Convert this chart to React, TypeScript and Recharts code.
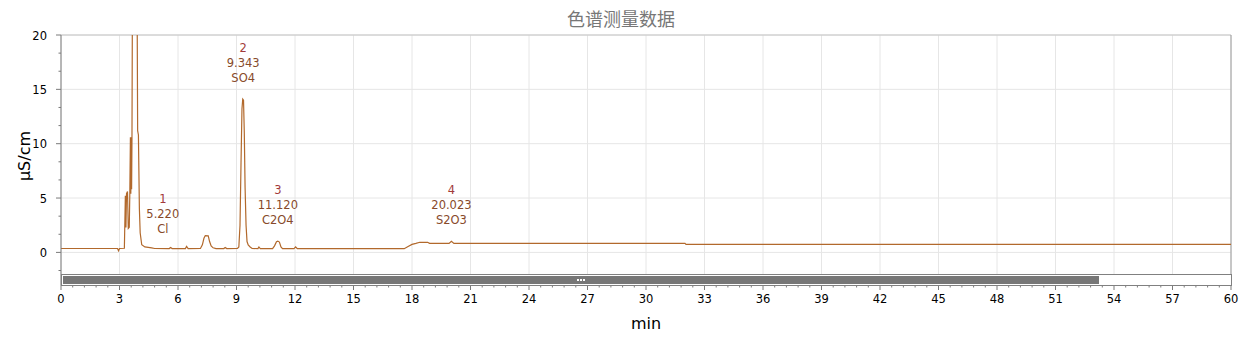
import {
	ComposedChart,
	Line,
	Scatter,
	XAxis,
	YAxis,
	CartesianGrid,
	ReferenceLine
} from "recharts";

// chromatogram trace (min, µS/cm)
const time = [
	0, 2.9, 2.95, 3.0, 3.25,
	3.3, 3.33, 3.36, 3.41, 3.45, 3.5, 3.53, 3.56, 3.58, 3.6, 3.62, 3.64, 3.66, 3.7, 3.88,
	3.91, 3.93, 3.97, 4.02, 4.06, 4.14, 4.3, 4.65, 4.8,
	5.55, 5.62, 5.7,
	6.38, 6.44, 6.52,
	7.15, 7.25, 7.33, 7.4, 7.55, 7.62, 7.7, 7.8, 7.95,
	8.35, 8.42, 8.5,
	9.05, 9.12, 9.18, 9.23, 9.28, 9.32, 9.36, 9.4, 9.44, 9.49, 9.54, 9.6, 9.7, 9.8,
	10.1, 10.15, 10.22,
	10.85, 10.95, 11.05, 11.12, 11.2, 11.28, 11.36,
	11.95, 12.03, 12.12,
	17.6, 17.8, 18.0, 18.2, 18.4, 18.8, 18.9,
	19.9, 20.02, 20.15,
	32.0, 32.05, 60
];
const signal = [
	0.36, 0.36, 0.15, 0.36, 0.38,
	5.2, 2.3, 5.4, 5.6, 2.2, 2.3, 5.5, 10.6, 5.4, 10.6, 5.8, 10.6, 22, 30, 30,
	20, 11.2, 10.8, 4, 1.8, 0.7, 0.5, 0.42, 0.36,
	0.35, 0.45, 0.35,
	0.35, 0.55, 0.35,
	0.36, 0.7, 1.3, 1.55, 1.52, 1.0, 0.6, 0.42, 0.35,
	0.35, 0.45, 0.35,
	0.36, 0.5, 2.5, 8, 13.2, 14.1, 14.0, 11, 6, 2.5, 1.0, 0.68, 0.5, 0.36,
	0.35, 0.5, 0.35,
	0.35, 0.6, 0.98, 1.04, 0.95, 0.5, 0.35,
	0.35, 0.5, 0.34,
	0.34, 0.55, 0.74, 0.83, 0.93, 0.93, 0.83,
	0.83, 1.03, 0.83,
	0.83, 0.74, 0.74
];

// integrated peaks
const peakNo = ["1", "2", "3", "4"];
const peakTime = [5.22, 9.343, 11.12, 20.023];
const peakTimeText = ["5.220", "9.343", "11.120", "20.023"];
const peakHeight = [0.2, 14.1, 1.04, 1.03];
const peakName = ["Cl", "SO4", "C2O4", "S2O3"];

const majorX = [0, 3, 6, 9, 12, 15, 18, 21, 24, 27, 30, 33, 36, 39, 42, 45, 48, 51, 54, 57, 60];
const majorY = [0, 5, 10, 15, 20];

const xTicks = majorX.slice(0, -1).flatMap((m) => [0, 0.6, 1.2, 1.8, 2.4].map((d) => +(m + d).toFixed(1))).concat([60]);
const yTicks = [-1, 0, 1, 2, 3, 4, 5, 6, 7, 8, 9, 10, 11, 12].map((k) => (k * 5) / 3);

const trace = time.map((t, i) => ({ t, s: signal[i] }));
const peaks = peakNo.map((n, i) => ({
	t: peakTime[i],
	v: peakHeight[i],
	n,
	rt: peakTimeText[i],
	name: peakName[i]
}));

const FONT = "Tahoma, 'DejaVu Sans', sans-serif";
const LINE = "#b2692c";

const isMajor = (v: number, list: number[]) => list.some((m) => Math.abs(m - v) < 1e-6);

function XTick({ x, y, payload }: any) {
	const major = isMajor(payload.value, majorX);
	return (
		<g>
			<line x1={x} y1={y} x2={x} y2={y + (major ? 5 : 2.5)} stroke="#7a7a7a" />
			{major && (
				<text x={x} y={y + 17.5} textAnchor="middle" fontSize={11.5} fontFamily={FONT} fill="#000">
					{payload.value}
				</text>
			)}
		</g>
	);
}

function YTick({ x, y, payload }: any) {
	const major = isMajor(payload.value, majorY);
	return (
		<g>
			<line x1={x - (major ? 5 : 2.5)} y1={y} x2={x} y2={y} stroke="#7a7a7a" />
			{major && (
				<text x={x - 14} y={y + 4.5} textAnchor="end" fontSize={11.5} fontFamily={FONT} fill="#000">
					{Math.round(payload.value)}
				</text>
			)}
		</g>
	);
}

function PeakLabel({ cx, cy, payload }: any) {
	return (
		<g fontFamily={FONT} fontSize={11.5} textAnchor="middle">
			<text x={cx} y={cy - 47} fill="#a23a3a">{payload.n}</text>
			<text x={cx} y={cy - 32} fill="#874a2a">{payload.rt}</text>
			<text x={cx} y={cy - 17} fill="#874a2a">{payload.name}</text>
		</g>
	);
}

export default function App() {
	return (
		<div style={{ position: "relative", width: 1250, height: 344, margin: -8, background: "#fff" }}>
			<div
				style={{
					position: "absolute",
					left: 0,
					top: 5,
					width: 1242,
					textAlign: "center",
					fontFamily: "'Noto Sans CJK SC', sans-serif",
					fontSize: 18,
					lineHeight: "26px",
					color: "#777"
				}}
			>
				色谱测量数据
			</div>
			<ComposedChart width={1250} height={344} margin={{ top: 35, right: 19, bottom: 0, left: 0 }}>
				<CartesianGrid
					stroke="#e6e6e6"
					verticalValues={majorX}
					horizontalValues={majorY}
				/>
				<XAxis
					dataKey="t"
					type="number"
					domain={[0, 60]}
					ticks={xTicks}
					interval={0}
					height={59}
					tickSize={0}
					tickMargin={0}
					tickLine={false}
					axisLine={{ stroke: "#7a7a7a" }}
					tick={(p: any) => <XTick {...p} />}
					label={{
						content: ({ viewBox }: any) => (
							<text
								x={viewBox.x + viewBox.width / 2}
								y={viewBox.y + 44}
								textAnchor="middle"
								fontSize={16}
								fontFamily={FONT}
								fill="#000"
							>
								min
							</text>
						)
					}}
				/>
				<YAxis
					type="number"
					domain={[-3, 20]}
					ticks={yTicks}
					interval={0}
					width={61}
					allowDataOverflow
					tickSize={0}
					tickMargin={0}
					tickLine={false}
					axisLine={{ stroke: "#7a7a7a" }}
					tick={(p: any) => <YTick {...p} />}
					label={{
						content: ({ viewBox }: any) => {
							const lx = viewBox.x + 30;
							const ly = viewBox.y + viewBox.height / 2 - 4;
							return (
								<text
									x={lx}
									y={ly}
									transform={`rotate(-90 ${lx} ${ly})`}
									textAnchor="middle"
									fontSize={16}
									fontFamily={FONT}
									fill="#000"
								>
									μS/cm
								</text>
							);
						}
					}}
				/>
				<ReferenceLine y={20} stroke="#c4c4c4" />
				<ReferenceLine x={60} stroke="#9a9a9a" />
				<Line
					data={trace}
					dataKey="s"
					type="linear"
					stroke={LINE}
					strokeWidth={1.2}
					dot={false}
					activeDot={false}
					isAnimationActive={false}
				/>
				<Scatter
					data={peaks}
					dataKey="v"
					shape={(p: any) => <PeakLabel {...p} />}
					isAnimationActive={false}
				/>
			</ComposedChart>
			{/* scroll bar under the plot */}
			<div
				style={{
					position: "absolute",
					left: 61,
					top: 274,
					width: 1171,
					height: 12,
					boxSizing: "border-box",
					border: "1px solid #808080",
					background: "#fff"
				}}
			>
				<div
					style={{
						position: "absolute",
						left: 1,
						top: 1,
						width: 1036,
						height: 8,
						background: "#777"
					}}
				>
					<div style={{ position: "absolute", left: 514, top: 3, width: 2, height: 2, background: "#fff" }} />
					<div style={{ position: "absolute", left: 517, top: 3, width: 2, height: 2, background: "#fff" }} />
					<div style={{ position: "absolute", left: 520, top: 3, width: 2, height: 2, background: "#fff" }} />
				</div>
			</div>
		</div>
	);
}
